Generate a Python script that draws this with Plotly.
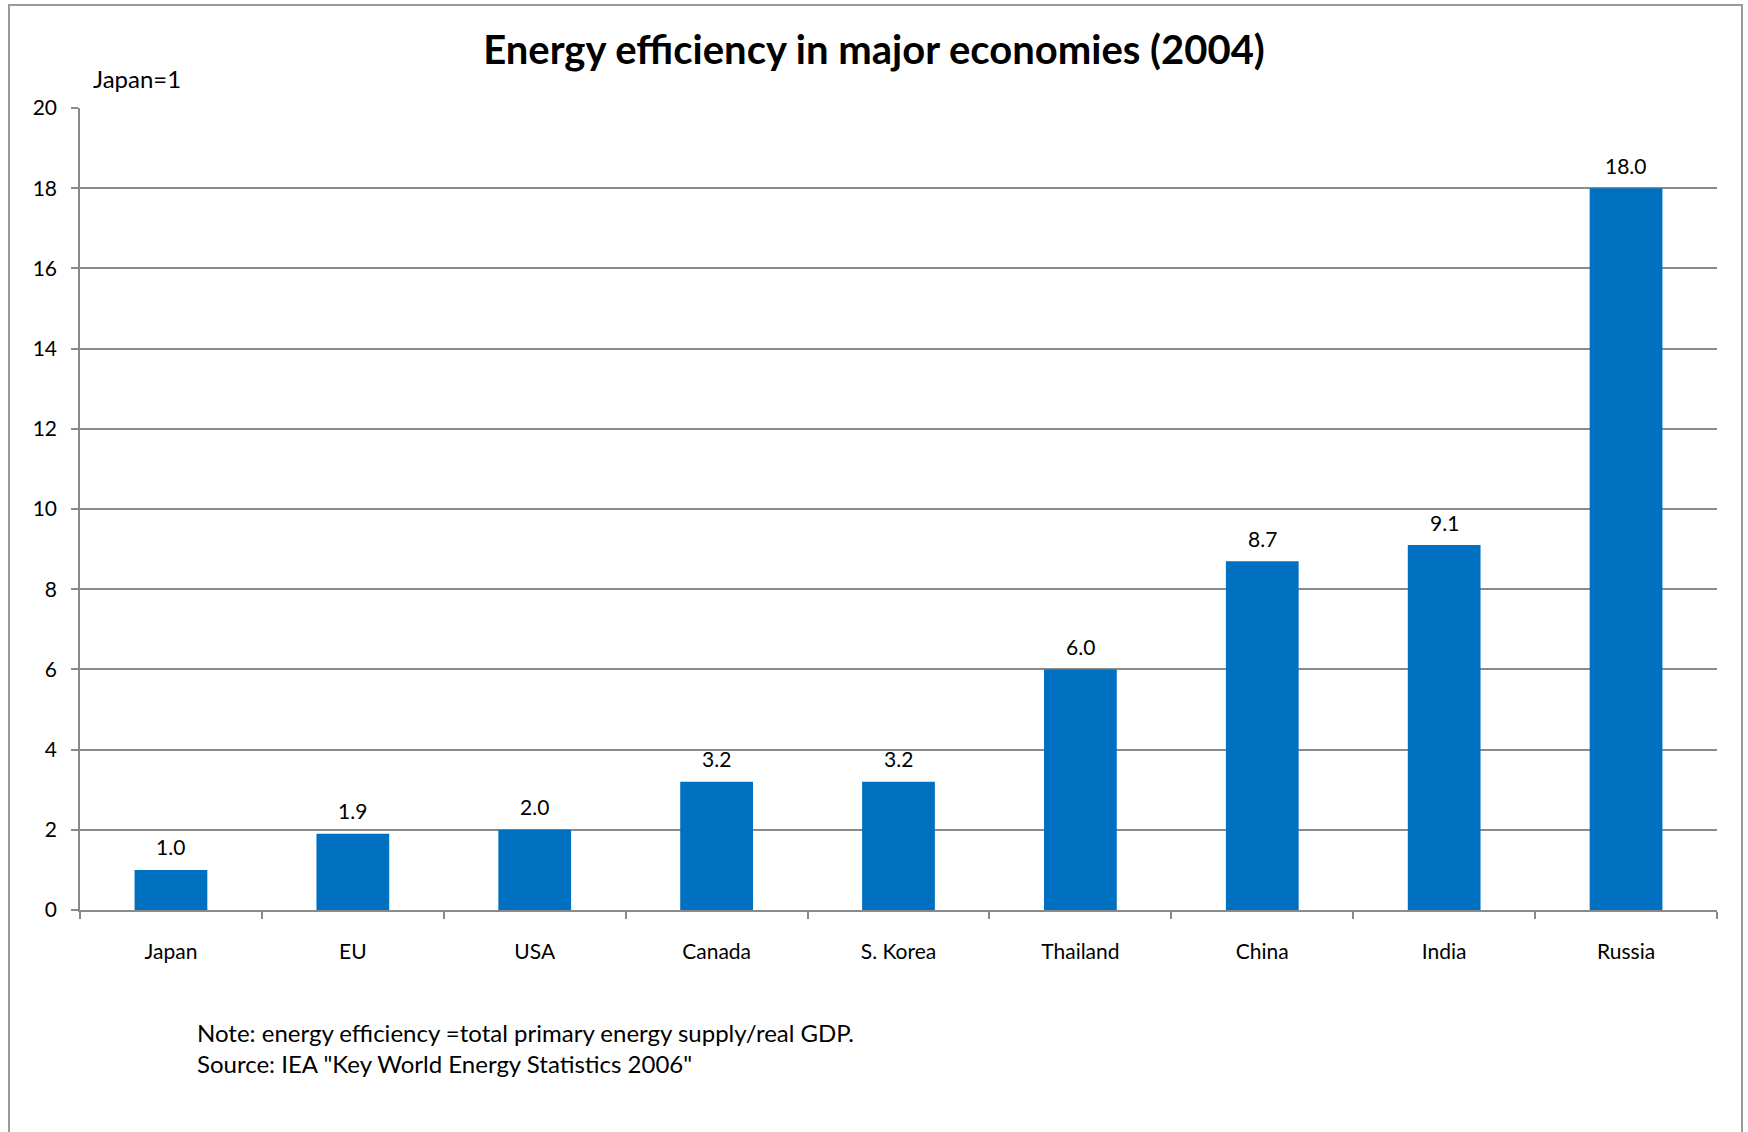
import plotly.graph_objects as go

# Energy intensity relative to Japan (Japan = 1), 2004
countries = ["Japan", "EU", "USA", "Canada", "S. Korea", "Thailand", "China", "India", "Russia"]
efficiency = [1.0, 1.9, 2.0, 3.2, 3.2, 6.0, 8.7, 9.1, 18.0]
y_ticks = [0, 2, 4, 6, 8, 10, 12, 14, 16, 18, 20]

W, H = 1748, 1132
ML, MR, MT, MB = 80, 31, 108, 222
PW, PH = W - ML - MR, H - MT - MB

FONT = "Lato, Carlito, Calibri, sans-serif"
GRID = "#8a8a8a"
BAR = "#0070C0"


def px_x(p):
    return (p - ML) / PW


def px_y(p):
    return 1 - (p - MT) / PH


fig = go.Figure(
    go.Bar(
        x=countries,
        y=efficiency,
        marker=dict(color=BAR, line=dict(width=0)),
        width=0.4,
        hoverinfo="x+y",
    )
)

# value labels above each bar
for c, v in zip(countries, efficiency):
    fig.add_annotation(
        x=c,
        y=v,
        text=f"{v:.1f}",
        xref="x",
        yref="y",
        yanchor="middle",
        yshift=23,
        showarrow=False,
        font=dict(family=FONT, size=21, color="#000000"),
    )

fig.update_layout(
    width=W,
    height=H,
    margin=dict(l=ML, r=MR, t=MT, b=MB),
    paper_bgcolor="white",
    plot_bgcolor="white",
    showlegend=False,
    font=dict(family=FONT, color="#000000"),
    title=dict(
        text="<b>Energy efficiency in major economies (2004)</b>",
        font=dict(family=FONT, size=40, color="#000000"),
        x=0.5,
        xanchor="center",
        xref="container",
        y=1 - 50 / H,
        yanchor="middle",
    ),
    xaxis=dict(
        type="category",
        tickson="boundaries",
        ticks="outside",
        ticklen=7,
        tickcolor=GRID,
        tickwidth=1.5,
        showgrid=False,
        showline=True,
        linecolor=GRID,
        linewidth=1.5,
        tickfont=dict(family=FONT, size=21, color="#000000"),
        ticklabelstandoff=22,
    ),
    yaxis=dict(
        range=[0, 20],
        tickvals=y_ticks,
        ticktext=[str(v) for v in y_ticks],
        ticks="outside",
        ticklen=7,
        tickcolor=GRID,
        tickwidth=1.5,
        showgrid=True,
        gridcolor=GRID,
        gridwidth=1.5,
        showline=True,
        linecolor=GRID,
        linewidth=1.5,
        zeroline=False,
        tickfont=dict(family=FONT, size=21, color="#000000"),
        ticklabelstandoff=10,
    ),
    bargap=0.6,
)

# outer chart frame
fig.add_shape(
    type="rect",
    xref="paper",
    yref="paper",
    x0=px_x(9),
    x1=px_x(1742),
    y0=px_y(1145),
    y1=px_y(5),
    line=dict(color="#9a9a9a", width=2),
    fillcolor="rgba(0,0,0,0)",
    layer="below",
)

fig.add_annotation(
    text="Japan=1",
    xref="paper",
    yref="paper",
    x=px_x(91),
    y=px_y(78),
    xanchor="left",
    yanchor="middle",
    showarrow=False,
    font=dict(family=FONT, size=24, color="#000000"),
)

fig.add_annotation(
    text='Note: energy efficiency =total primary energy supply/real GDP.<br>Source: IEA "Key World Energy Statistics 2006"',
    xref="paper",
    yref="paper",
    x=px_x(195),
    y=px_y(1048),
    xanchor="left",
    yanchor="middle",
    align="left",
    showarrow=False,
    font=dict(family=FONT, size=24, color="#000000"),
)

fig.write_html("out.html")
